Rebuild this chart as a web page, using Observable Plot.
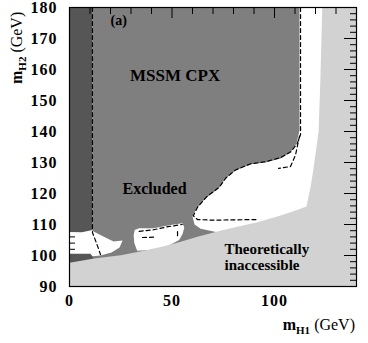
<!DOCTYPE html>
<html><head><meta charset="utf-8">
<script src="https://cdn.jsdelivr.net/npm/d3@7"></script>
<script src="https://cdn.jsdelivr.net/npm/@observablehq/plot@0.6"></script>
<style>body{margin:0;background:#fff}</style>
</head><body><div id="chart"></div>
<script>
// axis tick values
const xTicks = [0, 50, 100];
const xMinorTicks = [10, 20, 30, 40, 60, 70, 80, 90, 110, 120, 130];
const yTicks = [90, 100, 110, 120, 130, 140, 150, 160, 170, 180];
const yMinorTicks = d3.range(90, 181, 2);

// regions (m_H1, m_H2) in GeV
const excludedRegion = [[11.2,180],[112.2,180],[112.2,140.3],[110.7,136.1],[107.8,133.2],[102.9,131.3],[95.6,130],[88.3,129.4],[81,127.4],[76.1,124.8],[72.7,121.6],[66.3,118.4],[62,115.2],[60,112.6],[61,110],[64,108.6],[72,107.5],[72,95],[11.2,95]];
const allowedPatch1 = [[0,108.1],[11.5,107.8],[16.5,106.1],[21.5,104.5],[25.9,104.8],[24.4,102.6],[20.5,101],[15.1,100],[0,99]];
const allowedPatch2 = [[31.8,108.2],[34,108.8],[41,108.8],[49.3,109.8],[55.1,110.4],[56,109],[55.2,107],[53.5,105],[45,102],[33,101.5],[31.6,104],[31.3,106.5]];
const darkPatch = [[0,100.6],[10.2,100.6],[11.5,99.5],[11.5,98],[0,97]];
const inaccessible = [[0,97.7],[12,99],[25,100.1],[35,101.4],[45,102.8],[53,104.2],[62,106],[74,108.1],[83,109.4],[91.7,110.7],[103,112.9],[110,114.4],[115.6,115.8],[116.6,119],[117.6,122],[119,128],[120.5,135],[121.5,140],[122.3,155],[123.3,180],[140,180],[140,90],[0,90]];
const darkRegion = [[0,180],[11.2,180],[11.2,108.2],[6,107.5],[0,107.6]];

// dashed contours
const contourLeft = [[11.2,180],[11.2,107.4],[12.7,104.8],[14.1,102.3],[15.1,100.3]];
const contourRight = [[112.7,180],[112.7,139],[111,136],[108,133.5],[103,131.6],[96,130.3],[88.5,129.6],[81,127.6],[76.3,125],[73,122],[67,119],[62.4,115.5],[60.4,112.8],[62.4,111.6],[70,111.4],[80,111.5],[91.7,111.6]];
const contourInner = [[112.2,138.5],[110.2,132.3],[107.8,128.7],[102,128.1]];
const contourPatch2 = [[34,107.8],[41,108.3],[48,109.3],[55,110]];
const contourPatch2b = [[35.6,105.8],[41,105.9]];
const contourPatch2c = [[52.7,107.7],[52.7,105.8]];

const notes = [
  {text: "(a)", x: 20, y: 175.8, size: 14},
  {text: "MSSM CPX", x: 29.5, y: 158, size: 17},
  {text: "Excluded", x: 25.9, y: 121.5, size: 16},
  {text: "Theoretically", x: 75.6, y: 102.1, size: 15},
  {text: "inaccessible", x: 75.6, y: 97.0, size: 15}
];

const W = 368, H = 343, mL = 69, mR = 12, mT = 7, mB = 57;
const fw = W - mL - mR, fh = H - mT - mB;

const poly = (data, fill) => Plot.line(data, {x: d => d[0], y: d => d[1], fill, stroke: "none", curve: "linear-closed"});
const dash = (data) => Plot.line(data, {x: d => d[0], y: d => d[1], stroke: "black", strokeWidth: 1.2, strokeDasharray: "4,3"});

const plot = Plot.plot({
  width: W, height: H,
  marginLeft: mL, marginRight: mR, marginTop: mT, marginBottom: mB,
  style: {fontFamily: "'Liberation Serif', serif", fontSize: "16px", fontWeight: "bold", background: "white", color: "black"},
  x: {domain: [0, 140]},
  y: {domain: [90, 180]},
  marks: [
    poly(excludedRegion, "#7f7f7f"),
    poly(allowedPatch1, "white"),
    poly(allowedPatch2, "white"),
    Plot.tickY(yMinorTicks, {y: d => d, stroke: "black", insetRight: fw - 6}),
    Plot.tickY(yTicks, {y: d => d, stroke: "black", insetRight: fw - 12}),
    poly(darkPatch, "#565656"),
    poly(inaccessible, "#d2d2d2"),
    poly(darkRegion, "#565656"),
    dash(contourLeft),
    dash(contourRight),
    dash(contourInner),
    dash(contourPatch2),
    dash(contourPatch2b),
    dash(contourPatch2c),
    Plot.tickY(yMinorTicks, {y: d => d, stroke: "black", insetLeft: fw - 6}),
    Plot.tickY(yTicks, {y: d => d, stroke: "black", insetLeft: fw - 12}),
    Plot.tickX(xMinorTicks, {x: d => d, stroke: "black", insetBottom: fh - 7}),
    Plot.tickX(xTicks, {x: d => d, stroke: "black", insetBottom: fh - 11}),
    Plot.frame({stroke: "black", strokeWidth: 1.2}),
    Plot.text(notes, {x: "x", y: "y", text: "text", textAnchor: "start", fontSize: d => d.size, fontWeight: "bold", fill: "black"}),
    Plot.axisX({ticks: xTicks, tickSize: 0, tickPadding: 8, label: null}),
    Plot.axisY({ticks: yTicks, tickSize: 0, tickPadding: 12, label: null})
  ]
});
document.getElementById("chart").appendChild(plot);

const svg = d3.select(plot);
svg.selectAll('[aria-label="x-axis tick label"] text, [aria-label="y-axis tick label"] text').style("letter-spacing", "1px");

const xt = svg.append("text").attr("x", 355).attr("y", 330).attr("text-anchor", "end")
  .style("font-size", "16px").style("font-weight", "normal");
xt.append("tspan").style("font-weight", "bold").text("m");
xt.append("tspan").attr("dy", 4).style("font-size", "11px").style("font-weight", "bold").text("H1");
xt.append("tspan").attr("dy", -4).text(" (GeV)");

const yt = svg.append("text").attr("transform", "translate(22,84) rotate(-90)").attr("text-anchor", "start")
  .style("font-size", "16px").style("font-weight", "normal");
yt.append("tspan").style("font-weight", "bold").text("m");
yt.append("tspan").attr("dy", 4).style("font-size", "11px").style("font-weight", "bold").text("H2");
yt.append("tspan").attr("dy", -4).text(" (GeV)");
</script>
</body></html>
